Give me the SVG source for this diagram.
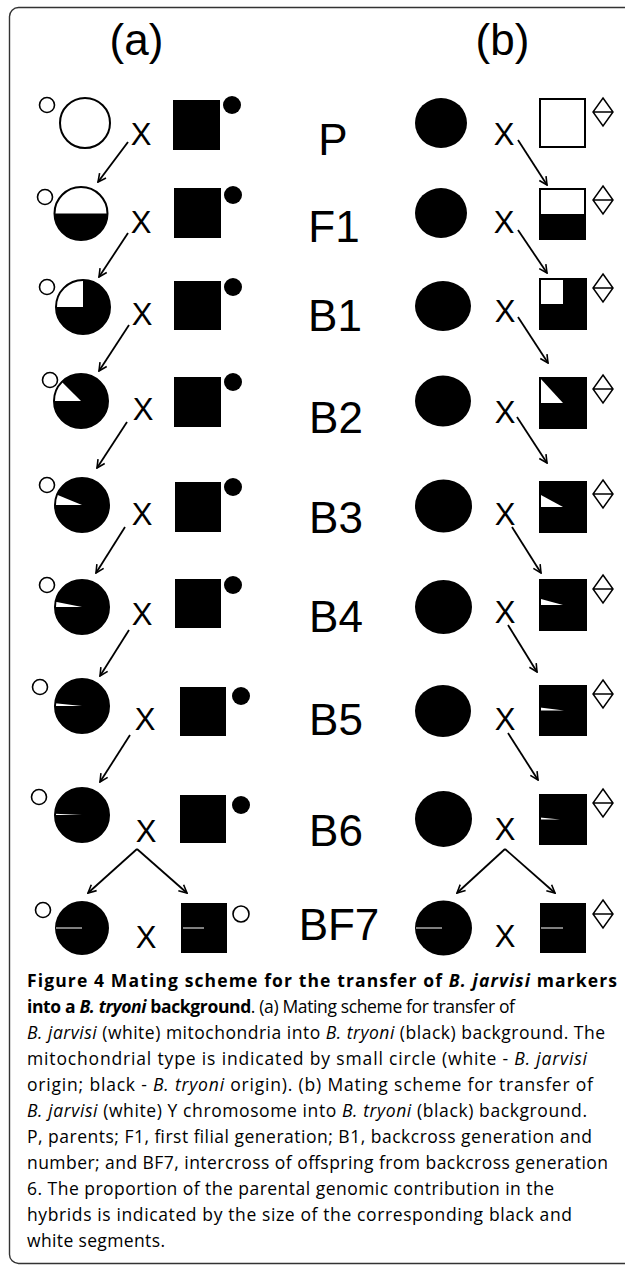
<svg xmlns="http://www.w3.org/2000/svg" width="625" height="1265" viewBox="0 0 625 1265">
<style>
.lbl{font-family:"Liberation Sans",Arial,sans-serif;font-size:44px;fill:#000;text-anchor:middle}
.x{font-family:"Liberation Sans",Arial,sans-serif;font-size:31px;fill:#000;text-anchor:middle}
.ol{fill:none;stroke:#000;stroke-width:2}
.blk{fill:#000}
.wht{fill:#fff}
.mito{fill:#fff;stroke:#000;stroke-width:1.6}
.dot{fill:#000}
.y{fill:#fff;stroke:#000;stroke-width:1.5}
.cap{font-family:"Open Sans","Liberation Sans",sans-serif;font-size:17.5px;fill:#000}
.b{font-weight:bold}
.i{font-style:italic}
.conn line{stroke:#000;stroke-width:1.8;marker-end:url(#ah)}
</style>
<defs>
<marker id="ah" viewBox="0 0 10 10" refX="9" refY="5" markerWidth="10" markerHeight="10" markerUnits="userSpaceOnUse" orient="auto">
<path d="M1,1 L9,5 L1,9" fill="none" stroke="#000" stroke-width="1.6"/>
</marker>
</defs>
<rect x="9.5" y="7.5" width="660" height="1256" rx="9" fill="none" stroke="#333" stroke-width="1.4"/>

<g id="headings">
<text class="lbl" x="136.5" y="55">(a)</text>
<text class="lbl" x="502.5" y="55">(b)</text>
</g>

<g id="generation-labels">
<text class="lbl" x="333" y="155">P</text>
<text class="lbl" x="334" y="242">F1</text>
<text class="lbl" x="335" y="331">B1</text>
<text class="lbl" x="336" y="433">B2</text>
<text class="lbl" x="336" y="533">B3</text>
<text class="lbl" x="336" y="632">B4</text>
<text class="lbl" x="336" y="735">B5</text>
<text class="lbl" x="336" y="846">B6</text>
<text class="lbl" x="339" y="940">BF7</text>
</g>

<!-- (a) scheme: females -->
<g id="a-P-female"><circle class="mito" cx="47" cy="105" r="7.5"/><circle cx="85" cy="123" r="25" fill="#fff" stroke="#000" stroke-width="2"/></g>
<g id="a-F1-female"><circle class="mito" cx="45" cy="197" r="7.5"/><circle class="blk" cx="81" cy="213.5" r="26.5"/><path class="wht" d="M54.5,213.5 A26.5,26.5 0 0 1 107.5,213.5 Z"/><circle class="ol" cx="81" cy="213.5" r="26.5"/></g>
<g id="a-B1-female"><circle class="mito" cx="47" cy="287" r="7.5"/><circle class="blk" cx="83" cy="307" r="27"/><path class="wht" d="M83,307 L56,307 A27,27 0 0 1 83,280 Z"/><circle class="ol" cx="83" cy="307" r="27"/></g>
<g id="a-B2-female"><circle class="mito" cx="50" cy="380" r="7.5"/><circle class="blk" cx="81" cy="401" r="27"/><path class="wht" d="M81,401 L54,401 A27,27 0 0 1 61.91,381.91 Z"/><circle class="ol" cx="81" cy="401" r="27"/></g>
<g id="a-B3-female"><circle class="mito" cx="47" cy="485" r="7.5"/><circle class="blk" cx="82" cy="505" r="27"/><path class="wht" d="M82,505 L55,505 A27,27 0 0 1 57.06,494.67 Z"/><circle class="ol" cx="82" cy="505" r="27"/></g>
<g id="a-B4-female"><circle class="mito" cx="47" cy="585" r="7.5"/><circle class="blk" cx="82" cy="607" r="27"/><path class="wht" d="M82,607 L55,607 A27,27 0 0 1 55.52,601.73 Z"/><circle class="ol" cx="82" cy="607" r="27"/></g>
<g id="a-B5-female"><circle class="mito" cx="40" cy="687" r="7.5"/><circle class="blk" cx="82" cy="706" r="27"/><path class="wht" d="M82,706 L55,706 A27,27 0 0 1 55.13,703.35 Z"/><circle class="ol" cx="82" cy="706" r="27"/></g>
<g id="a-B6-female"><circle class="mito" cx="39" cy="797" r="7.5"/><circle class="blk" cx="82" cy="815" r="27"/><path class="wht" d="M82,815 L55,815 A27,27 0 0 1 55.03,813.68 Z"/><circle class="ol" cx="82" cy="815" r="27"/></g>
<g id="a-BF7-female"><circle class="mito" cx="43" cy="910" r="7.5"/><circle class="blk" cx="82" cy="928" r="27"/><line x1="56" y1="928" x2="82" y2="928" stroke="#fff" stroke-width="1"/></g>

<!-- (a) scheme: crosses -->
<g id="a-crosses">
<text class="x" x="141" y="145">X</text>
<text class="x" x="141" y="233">X</text>
<text class="x" x="142" y="325">X</text>
<text class="x" x="143" y="420">X</text>
<text class="x" x="142" y="525">X</text>
<text class="x" x="142" y="625">X</text>
<text class="x" x="145" y="730">X</text>
<text class="x" x="146" y="842">X</text>
<text class="x" x="146" y="948">X</text>
</g>

<!-- (a) scheme: males -->
<g id="a-P-male"><rect class="blk" x="173" y="100" width="47" height="50"/><circle class="dot" cx="232" cy="105" r="9"/></g>
<g id="a-F1-male"><rect class="blk" x="174" y="188" width="47" height="50"/><circle class="dot" cx="233" cy="195" r="9"/></g>
<g id="a-B1-male"><rect class="blk" x="174" y="281" width="47" height="49"/><circle class="dot" cx="233" cy="287" r="9"/></g>
<g id="a-B2-male"><rect class="blk" x="174" y="377" width="47" height="50"/><circle class="dot" cx="233" cy="382" r="9"/></g>
<g id="a-B3-male"><rect class="blk" x="175" y="482" width="46" height="50"/><circle class="dot" cx="233" cy="487" r="9"/></g>
<g id="a-B4-male"><rect class="blk" x="175" y="579" width="46" height="49"/><circle class="dot" cx="233" cy="585" r="9"/></g>
<g id="a-B5-male"><rect class="blk" x="180" y="687" width="46" height="49"/><circle class="dot" cx="241" cy="696" r="9"/></g>
<g id="a-B6-male"><rect class="blk" x="180" y="795" width="46" height="48"/><circle class="dot" cx="241" cy="805" r="9"/></g>
<g id="a-BF7-male"><rect class="blk" x="181" y="903" width="46" height="50"/><line x1="183" y1="928" x2="204" y2="928" stroke="#fff" stroke-width="1"/><circle class="mito" cx="241" cy="914" r="8"/></g>

<!-- (b) scheme: females -->
<g id="b-P-female"><ellipse class="blk" cx="441" cy="123" rx="26" ry="25"/></g>
<g id="b-F1-female"><ellipse class="blk" cx="441" cy="213" rx="26" ry="25"/></g>
<g id="b-B1-female"><ellipse class="blk" cx="443" cy="306" rx="28" ry="25"/></g>
<g id="b-B2-female"><ellipse class="blk" cx="443" cy="401" rx="28" ry="25.5"/></g>
<g id="b-B3-female"><ellipse class="blk" cx="443.5" cy="506" rx="28.5" ry="26.5"/></g>
<g id="b-B4-female"><ellipse class="blk" cx="443.5" cy="607" rx="28.5" ry="27"/></g>
<g id="b-B5-female"><ellipse class="blk" cx="443" cy="711" rx="28" ry="26"/></g>
<g id="b-B6-female"><ellipse class="blk" cx="443.5" cy="819" rx="28.5" ry="28"/></g>
<g id="b-BF7-female"><ellipse class="blk" cx="443.5" cy="928" rx="28.5" ry="27.5"/><line x1="416" y1="928" x2="442" y2="928" stroke="#fff" stroke-width="1"/></g>

<!-- (b) scheme: crosses -->
<g id="b-crosses">
<text class="x" x="504" y="145">X</text>
<text class="x" x="504" y="233">X</text>
<text class="x" x="505" y="322">X</text>
<text class="x" x="505" y="423">X</text>
<text class="x" x="505" y="525">X</text>
<text class="x" x="505" y="623">X</text>
<text class="x" x="505" y="730">X</text>
<text class="x" x="505" y="840">X</text>
<text class="x" x="505" y="947">X</text>
</g>

<!-- (b) scheme: males -->
<g id="b-P-male"><rect x="540" y="99" width="45" height="48" fill="#fff" stroke="#000" stroke-width="2"/><path class="y" d="M603,98 L613,112 L603,126 L593,112 Z M593,112 L613,112"/></g>
<g id="b-F1-male"><rect class="blk" x="540" y="189" width="45" height="50"/><rect class="wht" x="540" y="189" width="45" height="25"/><rect class="ol" x="540" y="189" width="45" height="50"/><path class="y" d="M603,186 L613,200 L603,214 L593,200 Z M593,200 L613,200"/></g>
<g id="b-B1-male"><rect class="blk" x="540" y="279" width="46" height="50"/><rect class="wht" x="540" y="279" width="23" height="25"/><rect class="ol" x="540" y="279" width="46" height="50"/><path class="y" d="M603,274 L613,288 L603,302 L593,288 Z M593,288 L613,288"/></g>
<g id="b-B2-male"><rect class="blk" x="540" y="378" width="46" height="50"/><polygon class="wht" points="540,378 540,403 563,403"/><rect class="ol" x="540" y="378" width="46" height="50"/><path class="y" d="M603,375 L613,389 L603,403 L593,389 Z M593,389 L613,389"/></g>
<g id="b-B3-male"><rect class="blk" x="540" y="482" width="46" height="50"/><polygon class="wht" points="540,494.5 540,507 563,507"/><rect class="ol" x="540" y="482" width="46" height="50"/><path class="y" d="M603,480 L613,494 L603,508 L593,494 Z M593,494 L613,494"/></g>
<g id="b-B4-male"><rect class="blk" x="540" y="580" width="46" height="50"/><polygon class="wht" points="540,598.75 540,605 563,605"/><rect class="ol" x="540" y="580" width="46" height="50"/><path class="y" d="M603,575 L613,589 L603,603 L593,589 Z M593,589 L613,589"/></g>
<g id="b-B5-male"><rect class="blk" x="540" y="686" width="46" height="49"/><polygon class="wht" points="540,707.4 540,710.5 564,710.5"/><rect class="ol" x="540" y="686" width="46" height="49"/><path class="y" d="M603,680 L613,694 L603,708 L593,694 Z M593,694 L613,694"/></g>
<g id="b-B6-male"><rect class="blk" x="540" y="795" width="46" height="49"/><polygon class="wht" points="540,817.6 540,819.5 560,819.5"/><rect class="ol" x="540" y="795" width="46" height="49"/><path class="y" d="M603,789 L613,803 L603,817 L593,803 Z M593,803 L613,803"/></g>
<g id="b-BF7-male"><rect class="blk" x="540" y="903" width="46" height="50"/><line x1="541" y1="928" x2="563" y2="928" stroke="#fff" stroke-width="1"/><path class="y" d="M603,900 L613,914 L603,928 L593,914 Z M593,914 L613,914"/></g>

<g id="connectors" class="conn">
<line x1="128" y1="142" x2="98" y2="182"/>
<line x1="128" y1="233" x2="99" y2="277"/>
<line x1="129" y1="325" x2="99" y2="371"/>
<line x1="127" y1="422" x2="97" y2="468"/>
<line x1="125" y1="527" x2="96" y2="573"/>
<line x1="129" y1="630" x2="100" y2="676"/>
<line x1="130" y1="735" x2="100" y2="782"/>
<line x1="137" y1="849" x2="88" y2="893"/>
<line x1="137" y1="849" x2="187" y2="893"/>
<line x1="518" y1="140" x2="547" y2="185"/>
<line x1="518" y1="230" x2="547" y2="273"/>
<line x1="518" y1="317" x2="548" y2="363"/>
<line x1="517" y1="417" x2="547" y2="463"/>
<line x1="512" y1="527" x2="541" y2="573"/>
<line x1="508" y1="625" x2="537" y2="672"/>
<line x1="508" y1="733" x2="538" y2="780"/>
<line x1="505" y1="849" x2="457" y2="893"/>
<line x1="505" y1="849" x2="555" y2="893"/>
</g>

<g id="caption" class="cap">
<text x="27" y="987" textLength="590"><tspan class="b">Figure 4 Mating scheme for the transfer of </tspan><tspan class="b i">B. jarvisi</tspan><tspan class="b"> markers</tspan></text>
<text x="27" y="1013" textLength="488"><tspan class="b">into a </tspan><tspan class="b i">B. tryoni</tspan><tspan class="b"> background</tspan>. (a) Mating scheme for transfer of</text>
<text x="27" y="1039" textLength="578"><tspan class="i">B. jarvisi</tspan> (white) mitochondria into <tspan class="i">B. tryoni</tspan> (black) background. The</text>
<text x="27" y="1065" textLength="560">mitochondrial type is indicated by small circle (white - <tspan class="i">B. jarvisi</tspan></text>
<text x="27" y="1091" textLength="566">origin; black - <tspan class="i">B. tryoni</tspan> origin). (b) Mating scheme for transfer of</text>
<text x="27" y="1117" textLength="560"><tspan class="i">B. jarvisi</tspan> (white) Y chromosome into <tspan class="i">B. tryoni</tspan> (black) background.</text>
<text x="27" y="1143" textLength="565">P, parents; F1, first filial generation; B1, backcross generation and</text>
<text x="27" y="1169" textLength="581">number; and BF7, intercross of offspring from backcross generation</text>
<text x="27" y="1195" textLength="527">6. The proportion of the parental genomic contribution in the</text>
<text x="27" y="1221" textLength="545">hybrids is indicated by the size of the corresponding black and</text>
<text x="27" y="1247" textLength="138">white segments.</text>
</g>
</svg>
